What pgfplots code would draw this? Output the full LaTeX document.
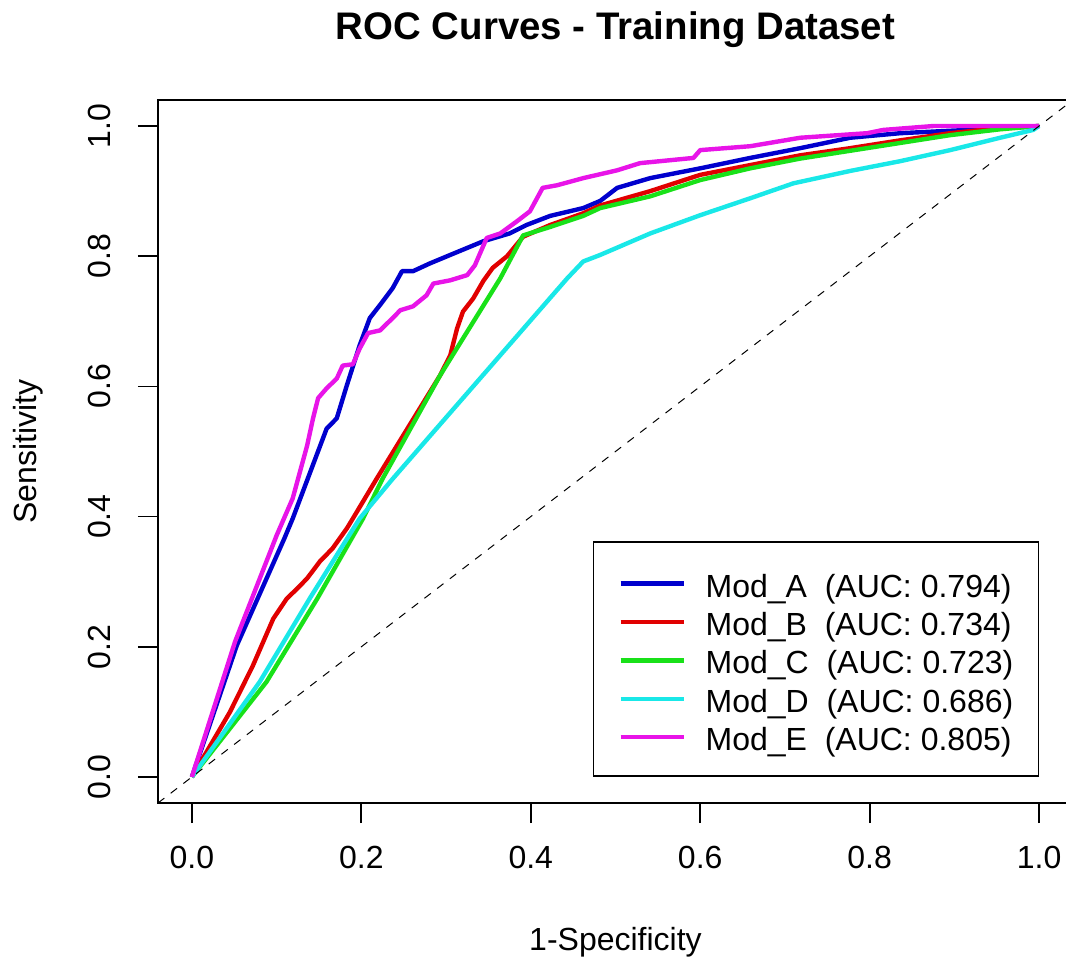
\documentclass[border=0pt]{standalone}
\usepackage{fontspec}
\setmainfont{Liberation Sans}
\usepackage{pgfplots}
\pgfplotsset{compat=1.18}

\definecolor{cA}{RGB}{0,0,205}
\definecolor{cB}{RGB}{225,0,0}
\definecolor{cC}{RGB}{25,225,25}
\definecolor{cD}{RGB}{25,232,232}
\definecolor{cE}{RGB}{232,20,232}

\begin{document}
\begin{tikzpicture}
% page = the (cropped) reference frame
\useasboundingbox (-79pt,-80.5pt) rectangle (454pt,401.5pt);
\begin{axis}[
  at={(0pt,0pt)}, anchor=south west,
  scale only axis, width=457.5pt, height=351.5pt,
  xmin=-0.04, xmax=1.04, ymin=-0.04, ymax=1.04,
  xtick={0,0.2,0.4,0.6,0.8,1}, ytick={0,0.2,0.4,0.6,0.8,1},
  xticklabels={0.0,0.2,0.4,0.6,0.8,1.0},
  yticklabels={0.0,0.2,0.4,0.6,0.8,1.0},
  tick align=outside, xtick pos=bottom, ytick pos=left,
  major tick length=10pt,
  axis line style={line width=0.9pt},
  tick style={line width=0.9pt, black},
  font=\fontsize{16}{19.2}\selectfont,
  ticklabel style={font=\fontsize{16}{19.2}\selectfont},
  xticklabel style={yshift=-8pt},
  yticklabel style={rotate=90, anchor=south, yshift=10pt},
  title={ROC Curves - Training Dataset},
  title style={font=\fontsize{19.2}{23}\selectfont\bfseries,
    at={(axis description cs:0.5,1)}, anchor=center, yshift=29pt},
  xlabel={1-Specificity},
  xlabel style={at={(axis description cs:0.5,0)}, anchor=center, yshift=-69.5pt},
  ylabel={Sensitivity},
  ylabel style={at={(axis description cs:0,0.5)}, anchor=center, yshift=65pt},
  legend style={at={(axis cs:1,0)}, anchor=south east, draw=black,
    line width=0.8pt, fill=white, font=\fontsize{16}{19.2}\selectfont,
    inner xsep=12.5pt, inner ysep=10.5pt, row sep=0pt, cells={anchor=west},
    nodes={inner sep=0pt, text height=17pt, text depth=2.2pt},
    /tikz/every odd column/.append style={column sep=11pt}},
  legend image code/.code={\path (0pt,0pt);
    \draw[#1, transform canvas={yshift=-5pt}] (0pt,4.35pt) -- (31.5pt,4.35pt);},
  every axis plot/.append style={line width=2.2pt, line join=round},
]
\addplot[cA] coordinates {
  (0,0) (0.053,0.202) (0.109,0.366) (0.119,0.397) (0.159,0.535) (0.171,0.551)
  (0.183,0.602) (0.198,0.663) (0.210,0.705) (0.222,0.725) (0.237,0.751)
  (0.248,0.777) (0.261,0.777) (0.281,0.789) (0.305,0.802) (0.344,0.823)
  (0.375,0.835) (0.395,0.848) (0.423,0.862) (0.462,0.874) (0.482,0.885)
  (0.502,0.905) (0.541,0.920) (0.600,0.935) (0.659,0.951) (0.718,0.966)
  (0.777,0.982) (0.836,0.989) (0.915,0.994) (1,1)
};
\addlegendentry{Mod\_A\ \ (AUC: 0.794)}
\addplot[cB] coordinates {
  (0,0) (0.045,0.100) (0.072,0.171) (0.096,0.243) (0.112,0.274) (0.124,0.289)
  (0.136,0.305) (0.151,0.331) (0.166,0.351) (0.183,0.382) (0.190,0.397)
  (0.218,0.458) (0.293,0.617) (0.305,0.648) (0.313,0.689) (0.320,0.715)
  (0.332,0.735) (0.344,0.762) (0.355,0.782) (0.372,0.800) (0.391,0.830)
  (0.423,0.848) (0.462,0.866) (0.482,0.878) (0.541,0.900) (0.600,0.925)
  (0.659,0.940) (0.718,0.955) (0.777,0.966) (0.836,0.978) (0.895,0.989)
  (0.954,0.997) (1,1)
};
\addlegendentry{Mod\_B\ \ (AUC: 0.734)}
\addplot[cC] coordinates {
  (0,0) (0.088,0.146) (0.148,0.274) (0.202,0.397) (0.225,0.458) (0.293,0.617)
  (0.364,0.766) (0.391,0.832) (0.423,0.845) (0.462,0.862) (0.482,0.874)
  (0.541,0.892) (0.600,0.917) (0.659,0.935) (0.718,0.950) (0.777,0.962)
  (0.836,0.974) (0.895,0.986) (0.954,0.995) (1,1)
};
\addlegendentry{Mod\_C\ \ (AUC: 0.723)}
\addplot[cD] coordinates {
  (0,0) (0.080,0.146) (0.139,0.274) (0.198,0.397) (0.237,0.458) (0.443,0.766)
  (0.462,0.792) (0.482,0.802) (0.541,0.835) (0.600,0.863) (0.659,0.889)
  (0.710,0.912) (0.777,0.931) (0.836,0.946) (0.895,0.963) (0.954,0.982)
  (0.993,0.994) (1,1)
};
\addlegendentry{Mod\_D\ \ (AUC: 0.686)}
\addplot[cE] coordinates {
  (0,0) (0.051,0.208) (0.100,0.371) (0.119,0.428) (0.136,0.509) (0.143,0.551)
  (0.149,0.582) (0.159,0.597) (0.171,0.612) (0.178,0.632) (0.190,0.634)
  (0.198,0.658) (0.208,0.682) (0.222,0.686) (0.237,0.705) (0.246,0.717)
  (0.261,0.723) (0.277,0.740) (0.285,0.758) (0.305,0.763) (0.325,0.771)
  (0.334,0.786) (0.348,0.828) (0.364,0.835) (0.384,0.854) (0.399,0.869)
  (0.414,0.905) (0.431,0.909) (0.462,0.920) (0.502,0.932) (0.529,0.943)
  (0.592,0.951) (0.600,0.963) (0.659,0.969) (0.718,0.982) (0.797,0.989)
  (0.816,0.994) (0.875,1.000) (1,1)
};
\addlegendentry{Mod\_E\ \ (AUC: 0.805)}
\addplot[black, line width=0.5pt, dash pattern=on 4pt off 4pt, forget plot]
  coordinates {(-0.04,-0.04) (1.04,1.04)};
\end{axis}
\end{tikzpicture}
\end{document}
